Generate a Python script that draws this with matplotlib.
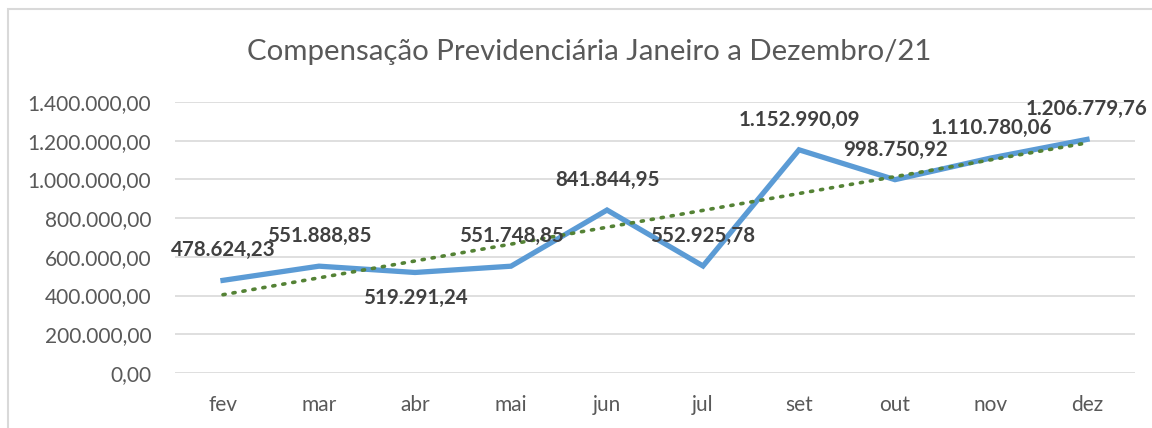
import matplotlib.pyplot as plt
from matplotlib.patches import Rectangle
import numpy as np

meses = ["fev", "mar", "abr", "mai", "jun", "jul", "set", "out", "nov", "dez"]
valores = [478624.23, 551888.85, 519291.24, 551748.85, 841844.95,
           552925.78, 1152990.09, 998750.92, 1110780.06, 1206779.76]
rotulos = ["478.624,23", "551.888,85", "519.291,24", "551.748,85", "841.844,95",
           "552.925,78", "1.152.990,09", "998.750,92", "1.110.780,06", "1.206.779,76"]
yticks = [0, 200000, 400000, 600000, 800000, 1000000, 1200000, 1400000]
ytick_labels = ["0,00", "200.000,00", "400.000,00", "600.000,00", "800.000,00",
                "1.000.000,00", "1.200.000,00", "1.400.000,00"]

plt.rcParams['font.family'] = ['Lato', 'DejaVu Sans']

fig = plt.figure(figsize=(11.52, 4.28), dpi=100)
# moldura do grafico
fig.patches.append(Rectangle((8 / 1152, -0.1), 1.2, (428 - 9) / 428 + 0.1,
                             transform=fig.transFigure, fill=False,
                             edgecolor="#D9D9D9", linewidth=1.5))

ax = fig.add_axes([175 / 1152, 55 / 428, 960 / 1152, 271 / 428])
x = np.arange(len(meses))

# linha de tendencia linear
coef = np.polyfit(x, valores, 1)
ax.plot(x, np.polyval(coef, x), color="#548235", linestyle=(0, (0.6, 2.2)),
        linewidth=2.6, dash_capstyle="round", zorder=3)
ax.plot(x, valores, color="#5B9BD5", linewidth=3.8, solid_joinstyle="miter", zorder=2)

for i, (v, r) in enumerate(zip(valores, rotulos)):
    dy = -25 if i == 2 else 30
    ax.annotate(r, (i, v), xytext=(0, dy), textcoords="offset pixels",
                ha="center", va="center", fontsize=14.8, fontweight="bold",
                color="#404040", zorder=4)

ax.set_xlim(-0.5, len(meses) - 0.5)
ax.set_ylim(0, 1400000)
ax.set_yticks(yticks)
ax.set_yticklabels(ytick_labels, fontsize=15, color="#595959")
ax.set_xticks(x)
ax.set_xticklabels(meses, fontsize=15, color="#595959")
ax.tick_params(axis="x", length=0, pad=16)
ax.tick_params(axis="y", length=0, pad=17)
ax.grid(axis="y", color="#D9D9D9", linewidth=1.2)
ax.set_axisbelow(True)
for s in ax.spines.values():
    s.set_visible(False)

fig.text(589 / 1152, 1 - 52 / 428, "Compensação Previdenciária Janeiro a Dezembro/21",
         ha="center", va="center", fontsize=21.2, color="#595959")

fig.savefig("out.png", dpi=100)
